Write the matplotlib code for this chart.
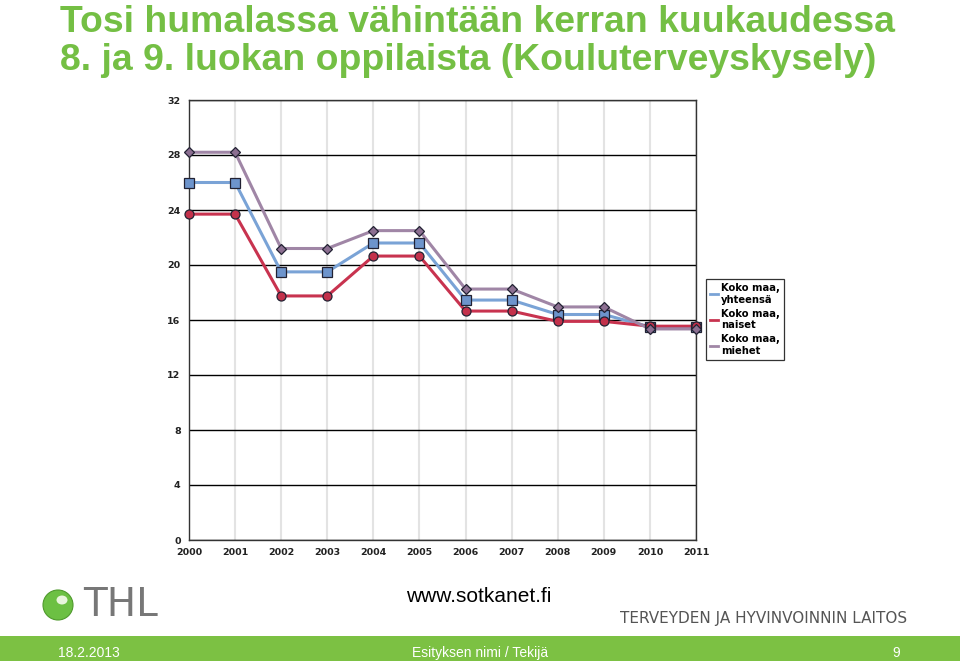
import matplotlib.pyplot as plt
from matplotlib.patches import Rectangle, Ellipse

years = list(range(2000, 2012))
yhteensa = [26.0, 26.0, 19.5, 19.5, 21.6, 21.6, 17.45, 17.45, 16.4, 16.4, 15.5, 15.5]
naiset = [23.7, 23.7, 17.75, 17.75, 20.65, 20.65, 16.65, 16.65, 15.9, 15.9, 15.55, 15.55]
miehet = [28.2, 28.2, 21.2, 21.2, 22.5, 22.5, 18.25, 18.25, 16.95, 16.95, 15.35, 15.35]
y_ticks = [0, 4, 8, 12, 16, 20, 24, 28, 32]
labels = ["Koko maa,\nyhteensä", "Koko maa,\nnaiset", "Koko maa,\nmiehet"]

GREEN = "#74bf44"
W, H = 960, 661

fig = plt.figure(figsize=(9.6, 6.61), dpi=100)
fig.patch.set_facecolor("white")

# title
fig.text(60 / W, 1 - 32 / H, "Tosi humalassa vähintään kerran kuukaudessa",
         color=GREEN, fontsize=26.9, fontweight="bold", family="Liberation Sans", va="baseline")
fig.text(60 / W, 1 - 70 / H, "8. ja 9. luokan oppilaista (Kouluterveyskysely)",
         color=GREEN, fontsize=26.9, fontweight="bold", family="Liberation Sans", va="baseline")

ax = fig.add_axes([189 / W, 1 - 540 / H, (696 - 189) / W, (540 - 100) / H])
ax.set_xlim(2000, 2011)
ax.set_ylim(0, 32)
ax.set_xticks(years)
ax.set_yticks(y_ticks)
for x in years:
    ax.axvline(x, color="#e3e3e3", lw=1.5, zorder=0)
for y in y_ticks:
    ax.axhline(y, color="black", lw=1, zorder=1)
for s in ax.spines.values():
    s.set_color("#333333")
    s.set_linewidth(1)
ax.tick_params(length=0, labelsize=6.8, colors="#222222", pad=6)
for t in ax.get_xticklabels() + ax.get_yticklabels():
    t.set_fontweight("bold")

series = [
    (yhteensa, "#7aa3d6", "#6d94cc", "s", 6.5),
    (naiset, "#c8334f", "#c3314b", "o", 6.5),
    (miehet, "#a086a6", "#8c6f91", "D", 5),
]
handles = []
for (vals, lc, mc, mk, ms), lab in zip(series, labels):
    ax.plot(years, vals, color=lc, lw=2.2, zorder=3, clip_on=False)
    ax.plot(years, vals, ls="none", marker=mk, ms=ms, mfc=mc, mec="#222233",
            mew=0.9, zorder=4, clip_on=False)
    h, = ax.plot([], [], color=lc, lw=2, label=lab)
    handles.append(h)

leg = fig.legend(handles=handles, loc="upper left", bbox_to_anchor=(706 / W, 1 - 279 / H),
                 handlelength=0.8, handletextpad=0.3, borderpad=0.4,
                 labelspacing=0.4, frameon=True, fancybox=False, edgecolor="black",
                 borderaxespad=0, prop={"weight": "bold", "size": 7.2})
leg.get_frame().set_linewidth(0.9)

# footer
fig.text(406 / W, 1 - 596 / H, "www.sotkanet.fi", fontsize=15, family="Liberation Sans",
         color="black", va="center")
fig.text(907 / W, 1 - 618 / H, "TERVEYDEN JA HYVINVOINNIN LAITOS", fontsize=11.0,
         family="DejaVu Sans", color="#555555", va="center", ha="right")
fig.patches.append(Ellipse((58 / W, 1 - 605 / H), 30 / W, 30 / H, transform=fig.transFigure,
                           facecolor="#6cc043", edgecolor="#4f9a2c", lw=0.8))
fig.patches.append(Ellipse((62 / W, 1 - 600 / H), 11 / W, 9 / H, transform=fig.transFigure,
                           facecolor="#e8f5dc", edgecolor="none"))
fig.text(83 / W, 1 - 605 / H, "THL", fontsize=28, family="DejaVu Sans", color="#777777",
         va="center")
fig.patches.append(Rectangle((0, 0), 1, 25 / H, transform=fig.transFigure,
                             facecolor="#7cc143", edgecolor="none"))
fig.text(58 / W, 8 / H, "18.2.2013", fontsize=10, color="white", va="center",
         family="Liberation Sans")
fig.text(480 / W, 8 / H, "Esityksen nimi / Tekijä", fontsize=10, color="white",
         va="center", ha="center", family="Liberation Sans")
fig.text(900 / W, 8 / H, "9", fontsize=10, color="white", va="center", ha="right",
         family="Liberation Sans")

fig.savefig("out.png", dpi=100)
